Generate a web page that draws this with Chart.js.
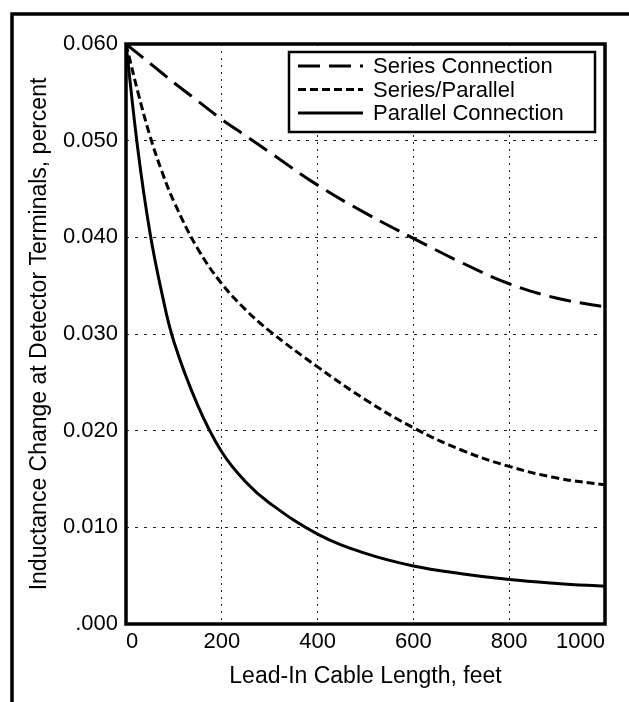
<!DOCTYPE html>
<html>
<head>
<meta charset="utf-8">
<script src="https://cdn.jsdelivr.net/npm/chart.js@4/dist/chart.umd.min.js"></script>
<style>
  html, body { margin: 0; padding: 0; background: #fff; }
  #wrap { width: 629px; height: 702px; position: relative; }
</style>
</head>
<body>
<div id="wrap"><canvas id="inductanceChart"></canvas></div>
<script>
// values
const cableLength = [0, 25, 50, 75, 100, 150, 200, 250, 300, 400, 500, 600, 700, 800, 900, 1000];
const seriesConnection = [0.0600, 0.0590, 0.0580, 0.0570, 0.0560, 0.0541, 0.0522, 0.0505, 0.0488, 0.0454, 0.0425, 0.0399, 0.0374, 0.0352, 0.0337, 0.0328];
const seriesParallel = [0.0600, 0.0550, 0.0505, 0.0468, 0.0437, 0.0388, 0.0352, 0.0325, 0.0303, 0.0266, 0.0232, 0.0203, 0.0180, 0.0163, 0.0151, 0.0144];
const parallelConnection = [0.0600, 0.0490, 0.0405, 0.0342, 0.0292, 0.0226, 0.0178, 0.0147, 0.0125, 0.0093, 0.0073, 0.0060, 0.0052, 0.0046, 0.0042, 0.0039];

const seriesLabels = ["Series Connection", "Series/Parallel", "Parallel Connection"];
const xTicks = [0, 200, 400, 600, 800, 1000];
const yTicks = [0, 0.01, 0.02, 0.03, 0.04, 0.05, 0.06];

const FONT = "'Liberation Sans', Arial, Helvetica, sans-serif";

function toPoints(values) {
    return cableLength.map((x, i) => ({ x: x, y: values[i] }));
}

// outer frame of the scanned page + the heavy plot border
const framePlugin = {
    id: 'frame',
    beforeDraw(chart) {
        const ctx = chart.ctx;
        ctx.save();
        ctx.fillStyle = '#fff';
        ctx.fillRect(0, 0, chart.width, chart.height);
        ctx.strokeStyle = '#000';
        ctx.lineWidth = 3.5;
        ctx.beginPath();
        ctx.moveTo(12, chart.height);
        ctx.lineTo(12, 14);
        ctx.lineTo(chart.width, 14);
        ctx.stroke();
        ctx.restore();
    },
    afterDatasetsDraw(chart) {
        const a = chart.chartArea;
        const ctx = chart.ctx;
        ctx.save();
        ctx.strokeStyle = '#000';
        ctx.lineWidth = 3.5;
        ctx.strokeRect(a.left, a.top, a.right - a.left, a.bottom - a.top);
        ctx.restore();
    }
};

// boxed legend inside the plot, upper right
const boxLegend = {
    id: 'boxLegend',
    afterDraw(chart) {
        const a = chart.chartArea;
        const ctx = chart.ctx;
        const w = 306, h = 80;
        const left = a.right - 10 - w;
        const top = a.top + 8;
        ctx.save();
        ctx.fillStyle = '#fff';
        ctx.fillRect(left, top, w, h);
        ctx.strokeStyle = '#000';
        ctx.lineWidth = 2.5;
        ctx.strokeRect(left, top, w, h);
        ctx.font = '22px ' + FONT;
        ctx.textBaseline = 'middle';
        ctx.textAlign = 'left';
        chart.data.datasets.forEach((ds, i) => {
            const y = top + 14 + i * 23.5;
            ctx.setLineDash(ds.borderDash || []);
            ctx.lineWidth = ds.borderWidth;
            ctx.strokeStyle = ds.borderColor;
            ctx.beginPath();
            ctx.moveTo(left + 9, y);
            ctx.lineTo(left + 74, y);
            ctx.stroke();
            ctx.setLineDash([]);
            ctx.fillStyle = '#000';
            ctx.fillText(ds.label, left + 84, y + 1);
        });
        ctx.restore();
    }
};

const lineStyle = {
    borderColor: '#000',
    borderWidth: 3,
    pointRadius: 0,
    fill: false,
    tension: 0.4
};

const config = {
    type: 'line',
    data: {
        datasets: [
            Object.assign({ label: seriesLabels[0], data: toPoints(seriesConnection), borderDash: [22, 9] }, lineStyle),
            Object.assign({ label: seriesLabels[1], data: toPoints(seriesParallel), borderDash: [8, 4] }, lineStyle),
            Object.assign({ label: seriesLabels[2], data: toPoints(parallelConnection), borderDash: [] }, lineStyle)
        ]
    },
    options: {
        responsive: true,
        maintainAspectRatio: false,
        animation: false,
        layout: {
            padding: { top: 44, right: 24, bottom: 0, left: 0 }
        },
        plugins: {
            legend: { display: false },
            tooltip: { enabled: false }
        },
        scales: {
            x: {
                type: 'linear',
                min: 0,
                max: 1000,
                afterBuildTicks(scale) {
                    scale.ticks = xTicks.map(v => ({ value: v }));
                },
                afterFit(scale) { scale.height = 78; },
                grid: { color: '#222', lineWidth: 1, drawTicks: false },
                border: { display: false, dash: [2, 5] },
                ticks: {
                    color: '#000',
                    padding: 5,
                    align: 'inner',
                    maxRotation: 0,
                    font: { family: FONT, size: 22 },
                    callback: function(value) { return String(value); }
                },
                title: {
                    display: true,
                    text: 'Lead-In Cable Length, feet',
                    color: '#000',
                    font: { family: FONT, size: 23 },
                    padding: { top: 0, bottom: 12 }
                }
            },
            y: {
                min: 0,
                max: 0.06,
                afterBuildTicks(scale) {
                    scale.ticks = yTicks.map(v => ({ value: v }));
                },
                afterFit(scale) { scale.width = 126; },
                grid: { color: '#222', lineWidth: 1, drawTicks: false },
                border: { display: false, dash: [3, 6] },
                ticks: {
                    color: '#000',
                    padding: 8,
                    font: { family: FONT, size: 22 },
                    callback: function(value) {
                        const s = value.toFixed(3);
                        return s === '0.000' ? '.000' : s;
                    }
                },
                title: {
                    display: true,
                    text: 'Inductance Change at Detector Terminals, percent',
                    color: '#000',
                    font: { family: FONT, size: 23 },
                    padding: { top: 26, bottom: 0 }
                }
            }
        }
    },
    plugins: [framePlugin, boxLegend]
};

new Chart(document.getElementById('inductanceChart'), config);
</script>
</body>
</html>
